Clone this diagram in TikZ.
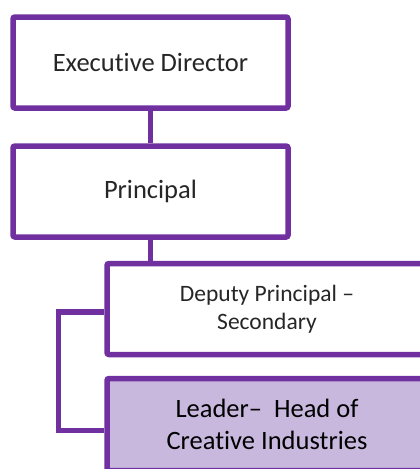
\documentclass[tikz,border=0pt]{standalone}
\usepackage{fontspec}
\setmainfont{Carlito}[Ligatures=NoCommon]
\usetikzlibrary{positioning}
\definecolor{orgpurple}{HTML}{7030A0}
\definecolor{orglilac}{HTML}{C8B8DE}
\definecolor{orgtext}{HTML}{262626}
\tikzset{
		post/.style={draw=orgpurple, line width=5.5pt, rounded corners=2pt, fill=white,
			minimum height=91pt, align=center, text=orgtext, font=\fontsize{26.5}{31}\selectfont},
		link/.style={draw=orgpurple, line width=5.5pt}
	}

\begin{document}
\begin{tikzpicture}[x=1pt, y=-1pt] % one unit = one pixel, y grows downwards
		\useasboundingbox (0,0) rectangle (420,469);
		\node[post, minimum width=275pt] (exec) at (150.5,62.5) {Executive Director};
		\node[post, minimum width=275pt] (princ) at (150.5,191.5) {Principal};
		\node[post, minimum width=320pt, font=\fontsize{23.5}{28.5}\selectfont] (deputy) at (267,309) {Deputy Principal --\\ Secondary};
		\node[post, minimum width=320pt, minimum height=92pt, fill=orglilac, text=black,
			font=\fontsize{26.5}{32}\selectfont] (leader) at (267,424.5) {Leader-- ~Head of\\ Creative Industries};
		% connectors
		\draw[link] (exec) -- (princ);
		\draw[link] (princ.south) -- (princ.south |- deputy.north);
		\draw[link] ([yshift=-3pt]deputy.west) -- ++(-46,0) |- ([yshift=-6pt]leader.west);
	\end{tikzpicture}
\end{document}
